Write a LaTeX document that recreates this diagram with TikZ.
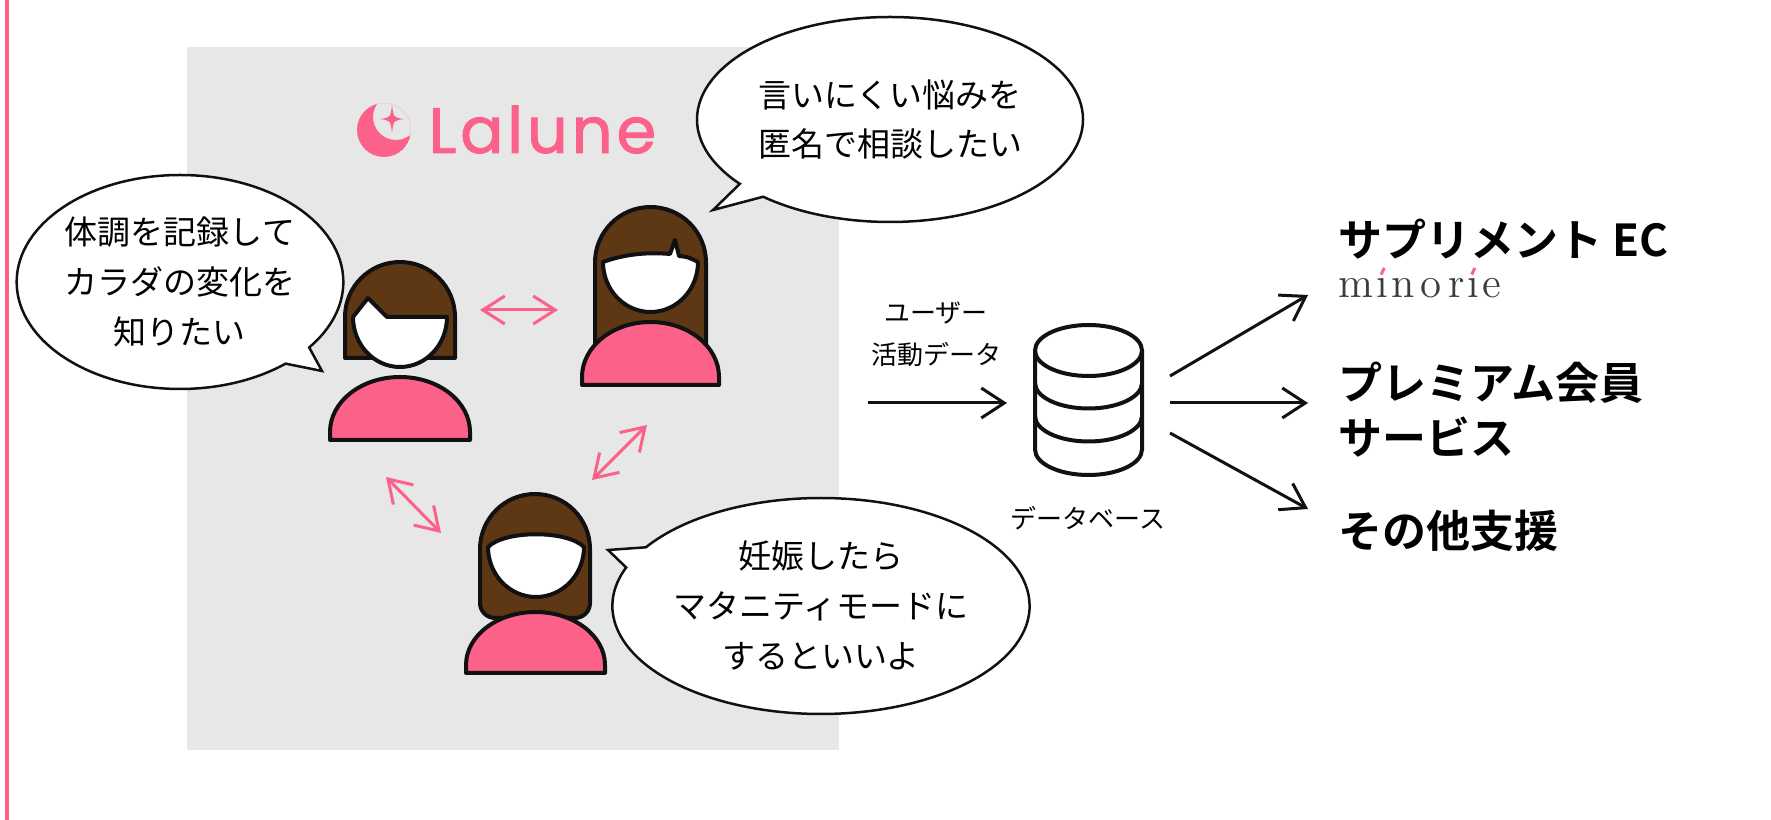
\documentclass[tikz,border=0pt]{standalone}
\usepackage{fontspec}
\setmainfont{Noto Sans CJK JP}[BoldFont={Noto Sans CJK JP Bold}]
\newfontfamily\logofont{Poppins}[LetterSpace=6,FakeBold=1.5]
\newfontfamily\brandfont{Latin Modern Roman}[LetterSpace=14]
\usepackage{xcolor}
\definecolor{cPink}{HTML}{FC6189}
\definecolor{cHair}{HTML}{5E3715}
\definecolor{cBg}{HTML}{E6E7E6}
\definecolor{cInk}{HTML}{111111}
\definecolor{cBrand}{HTML}{3C3C3C}
\usepackage{tikz}
\usetikzlibrary{arrows.meta,shapes.callouts}
% 带粉色点的 i
\newcommand\pinki{\kern0.07em\ooalign{\i\cr\hidewidth\raisebox{0.56em}{\textcolor{cPink}{\rotatebox{-25}{\rule{0.07em}{0.17em}}}}\hidewidth\cr}\kern0.07em}
\tikzset{
  node-bubble/.style={ellipse callout,draw=cInk,line width=0.25mm,fill=white,
    align=center,inner sep=0pt,font=\fontsize{3.3mm}{5mm}\selectfont},
  node-label/.style={align=center,inner sep=0pt,font=\fontsize{2.6mm}{4.2mm}\selectfont},
  node-service/.style={anchor=west,align=left,inner sep=0pt,
    font=\fontsize{4.4mm}{5.5mm}\selectfont\bfseries},
  % 人物：头发 / 脸 / 身体
  part-hair/.style={draw=cInk,line width=0.4mm,fill=cHair,line join=round},
  part-face/.style={draw=cInk,line width=0.4mm,fill=white,line join=round},
  part-body/.style={draw=cInk,line width=0.4mm,fill=cPink,line join=round},
  db-line/.style={draw=cInk,line width=0.4mm},
  arrow-pink/.style={{Straight Barb[length=2.2mm,width=2.8mm]}-{Straight Barb[length=2.2mm,width=2.8mm]},
    line width=0.3mm,draw=cPink},
  arrow-flow/.style={-{Straight Barb[length=2.3mm,width=3mm]},line width=0.3mm,draw=cInk},
}

\begin{document}
\begin{tikzpicture}[x=0.1mm,y=-0.1mm]
  % 底色
  \fill[white] (0,0) rectangle (1771,820);
  \fill[cPink] (5,0) rectangle (9,820);
  \fill[cBg] (187,47) rectangle (839,750);

  % Lalune 标志
  \begin{scope}
    \clip (384,130) circle[radius=27];
    \fill[cPink,even odd rule] (384,130) circle[radius=27] (396,117) circle[radius=23];
  \end{scope}
  \fill[cPink] (392,105) .. controls (393.5,117.5) .. (404,119)
    .. controls (393.5,120.5) .. (392,133) .. controls (390.5,120.5) .. (380,119)
    .. controls (390.5,117.5) .. cycle;
  \node[anchor=base west,inner sep=0pt,text=cPink,
    font=\logofont\fontsize{6.4mm}{6.4mm}\selectfont] (logo) at (428,153) {Lalune};

  % 左：短发
  \path[part-hair] (345,358) -- (345,317) arc[start angle=180,end angle=360,radius=55] -- (455,358) -- cycle;
  \path[part-face] (447,317) arc[start angle=0,end angle=180,x radius=47,y radius=50]
    -- (368,298) -- (387,317) -- cycle;
  \path[part-body] (330,440) -- (330,432) arc[start angle=180,end angle=360,x radius=70,y radius=55]
    -- (470,440) -- cycle;

  % 右上：长发
  \path[part-hair] (595,360) -- (595,262.5) arc[start angle=180,end angle=360,radius=55.5] -- (706,360) -- cycle;
  \path[part-face] (698,262) arc[start angle=0,end angle=180,x radius=47.5,y radius=50]
    .. controls (625,254) and (648,252) .. (670,254) -- (675,240) -- (679,256)
    .. controls (688,257) .. cycle;
  \path[part-body] (582,385) -- (582,377) arc[start angle=180,end angle=360,x radius=68.5,y radius=55]
    -- (719,385) -- cycle;

  % 下：中长发
  \path[part-hair] (590,549) arc[start angle=0,end angle=-180,radius=55]
    -- (480,603) arc[start angle=180,end angle=90,radius=15]
    -- (575,618) arc[start angle=90,end angle=0,radius=15] -- cycle;
  \path[part-face] (584,547) arc[start angle=0,end angle=180,x radius=48,y radius=50]
    .. controls (505,530) and (567,530) .. cycle;
  \path[part-body] (466,673) -- (466,665) arc[start angle=180,end angle=360,x radius=69.5,y radius=53]
    -- (605,673) -- cycle;

  % 对话气泡
  \coordinate (tip-record) at (322,371);
  \coordinate (tip-consult) at (713,210);
  \coordinate (tip-mode) at (608,550);
  \node[node-bubble,minimum width=30.8mm,minimum height=21.4mm,
    callout absolute pointer=(tip-record),callout pointer arc=12] (say-record) at (180,282)
    {体調を記録して\\カラダの変化を\\知りたい};
  \node[node-bubble,minimum width=38.6mm,minimum height=20.5mm,
    callout absolute pointer=(tip-consult),callout pointer arc=10] (say-consult) at (890,119.5)
    {言いにくい悩みを\\匿名で相談したい};
  \node[node-bubble,minimum width=37.8mm,minimum height=21.6mm,
    callout absolute pointer=(tip-mode),callout pointer arc=12] (say-mode) at (821,606)
    {妊娠したら\\マタニティモードに\\するといいよ};

  % 用户之间的交流
  \coordinate (p1-r) at (480,310);
  \coordinate (p2-l) at (558,310);
  \coordinate (p2-b) at (647,425);
  \coordinate (p3-t) at (592,480);
  \coordinate (p1-b) at (386,477);
  \coordinate (p3-l) at (441,533);
  \draw[arrow-pink] (p1-r) -- (p2-l);
  \draw[arrow-pink] (p3-t) -- (p2-b);
  \draw[arrow-pink] (p1-b) -- (p3-l);

  % 数据库
  \node[minimum width=10.7mm,minimum height=15mm,inner sep=0pt] (db) at (1088.5,400) {};
  \draw[db-line] (1088.5,350.5) ellipse[x radius=53.5,y radius=25.5];
  \draw[db-line] (1035,350.5) -- (1035,449.5) arc[start angle=180,end angle=0,x radius=53.5,y radius=25.5]
    -- (1142,350.5);
  \draw[db-line] (1035,383) arc[start angle=180,end angle=0,x radius=53.5,y radius=25.5];
  \draw[db-line] (1035,416) arc[start angle=180,end angle=0,x radius=53.5,y radius=25.5];
  \node[node-label] (db-label) at (1088,518) {データベース};
  \node[node-label] (data-label) at (936,334) {ユーザー\\活動データ};

  % 数据流向
  \coordinate (src) at (868,403);
  \coordinate (db-in) at (1007,403);
  \coordinate (db-o1) at (1170,376);
  \coordinate (db-o2) at (1170,403);
  \coordinate (db-o3) at (1170,433);
  \coordinate (to-ec) at (1308,295);
  \coordinate (to-premium) at (1308,403);
  \coordinate (to-other) at (1308,509);
  \draw[arrow-flow] (src) -- (db-in);
  \draw[arrow-flow] (db-o1) -- (to-ec);
  \draw[arrow-flow] (db-o2) -- (to-premium);
  \draw[arrow-flow] (db-o3) -- (to-other);

  % 服务
  \node[node-service] (svc-ec) at (1338,239) {サプリメント EC};
  \node[anchor=base west,inner sep=0pt,text=cBrand,
    font=\brandfont\fontsize{4.3mm}{4.3mm}\selectfont] (svc-ec-brand) at (1338,298) {m\pinki{}nor\pinki{}e};
  \node[node-service] (svc-premium) at (1338,410) {プレミアム会員\\サービス};
  \node[node-service] (svc-other) at (1338,531) {その他支援};
\end{tikzpicture}
\end{document}
